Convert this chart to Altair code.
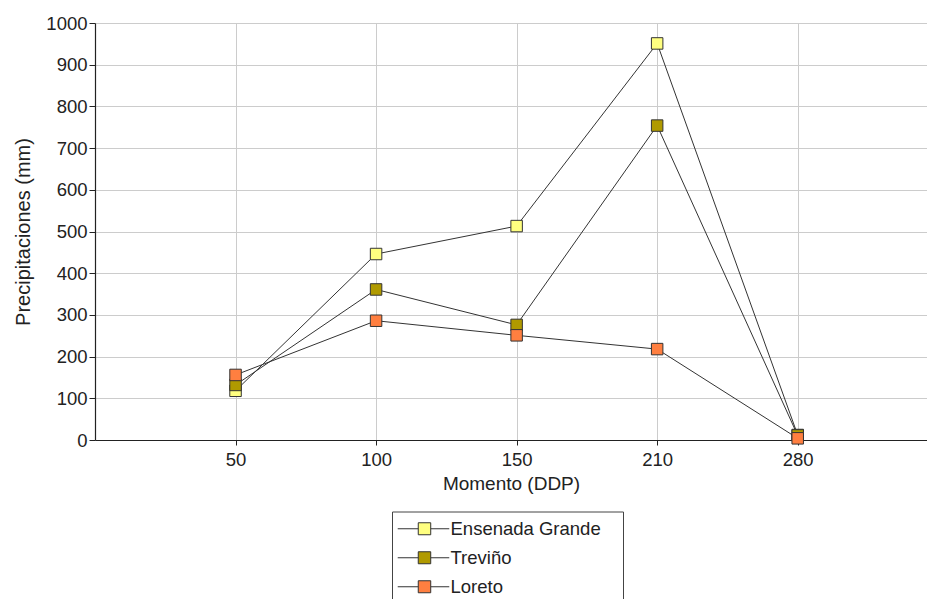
import altair as alt
import pandas as pd

categories = ["50", "100", "150", "210", "280"]
series_names = ["Ensenada Grande", "Treviño", "Loreto"]
ensenada = [118, 446, 513, 951, 12]
trevino = [132, 361, 276, 754, 11]
loreto = [156, 286, 251, 218, 4]
colors = ["#FFFF80", "#B09A00", "#FF7F40"]

rows = []
for name, vals in zip(series_names, [ensenada, trevino, loreto]):
    for i, (c, v) in enumerate(zip(categories, vals)):
        rows.append({"idx": i + 1, "momento": c, "serie": name, "valor": v})
df = pd.DataFrame(rows)

FONT = "Liberation Sans"
label_expr = "[" + ",".join('"%s"' % c for c in [""] + categories) + "][datum.value]"

x = alt.X(
    "idx:Q",
    scale=alt.Scale(domain=[0, 5.92], nice=False, zero=False),
    axis=alt.Axis(
        title="Momento (DDP)",
        values=[1, 2, 3, 4, 5],
        labelExpr=label_expr,
        grid=True,
        gridColor="#cccccc",
        gridWidth=1,
        domainColor="#222222",
        domainWidth=1.2,
        tickColor="#222222",
        tickSize=5,
        labelPadding=5,
        titlePadding=6,
        titleFontSize=19,
    ),
)
y = alt.Y(
    "valor:Q",
    scale=alt.Scale(domain=[0, 1000], nice=False),
    axis=alt.Axis(
        title="Precipitaciones (mm)",
        values=list(range(0, 1001, 100)),
        format="d",
        grid=True,
        gridColor="#cccccc",
        gridWidth=1,
        domainColor="#222222",
        domainWidth=1.2,
        tickColor="#222222",
        tickSize=6,
        labelPadding=2,
        titlePadding=12,
        titleFontSize=20,
    ),
)

lines = alt.Chart(df).mark_line(color="#333333", strokeWidth=1).encode(
    x=x, y=y, detail="serie:N"
)

legend_path = "M-1.92,0H1.5M3.58,0H6.67M1.5,-1.0H3.58V1.0H1.5Z"

points = alt.Chart(df).mark_square(
    size=132, stroke="#333333", strokeWidth=1, opacity=1
).encode(
    x=x,
    y=y,
    color=alt.Color(
        "serie:N",
        scale=alt.Scale(domain=series_names, range=colors),
        legend=alt.Legend(
            title=None,
            orient="none",
            legendX=297,
            legendY=488.5,
            padding=8,
            strokeColor="#444444",
            fillColor="white",
            symbolType=legend_path,
            symbolSize=144,
            symbolStrokeColor="#333333",
            symbolStrokeWidth=1,
            symbolOpacity=1,
            labelOffset=32,
            labelFontSize=18.5,
            labelColor="#222222",
            labelFont=FONT,
            labelLimit=400,
            labelExpr="datum.label + '\u2800'",
            rowPadding=10,
        ),
    ),
)

chart = (
    alt.layer(lines, points)
    .properties(
        width=832,
        height=417,
        padding={"left": 95, "top": 23, "right": 0, "bottom": 159},
        autosize=alt.AutoSizeParams(type="none"),
    )
    .configure_view(stroke=None)
    .configure_axis(
        labelFont=FONT,
        titleFont=FONT,
        labelFontSize=18.5,
        labelColor="#222222",
        titleColor="#222222",
        titleFontWeight="normal",
    )
)

chart.save("out.html", embed_options={"renderer": "svg", "actions": False})
